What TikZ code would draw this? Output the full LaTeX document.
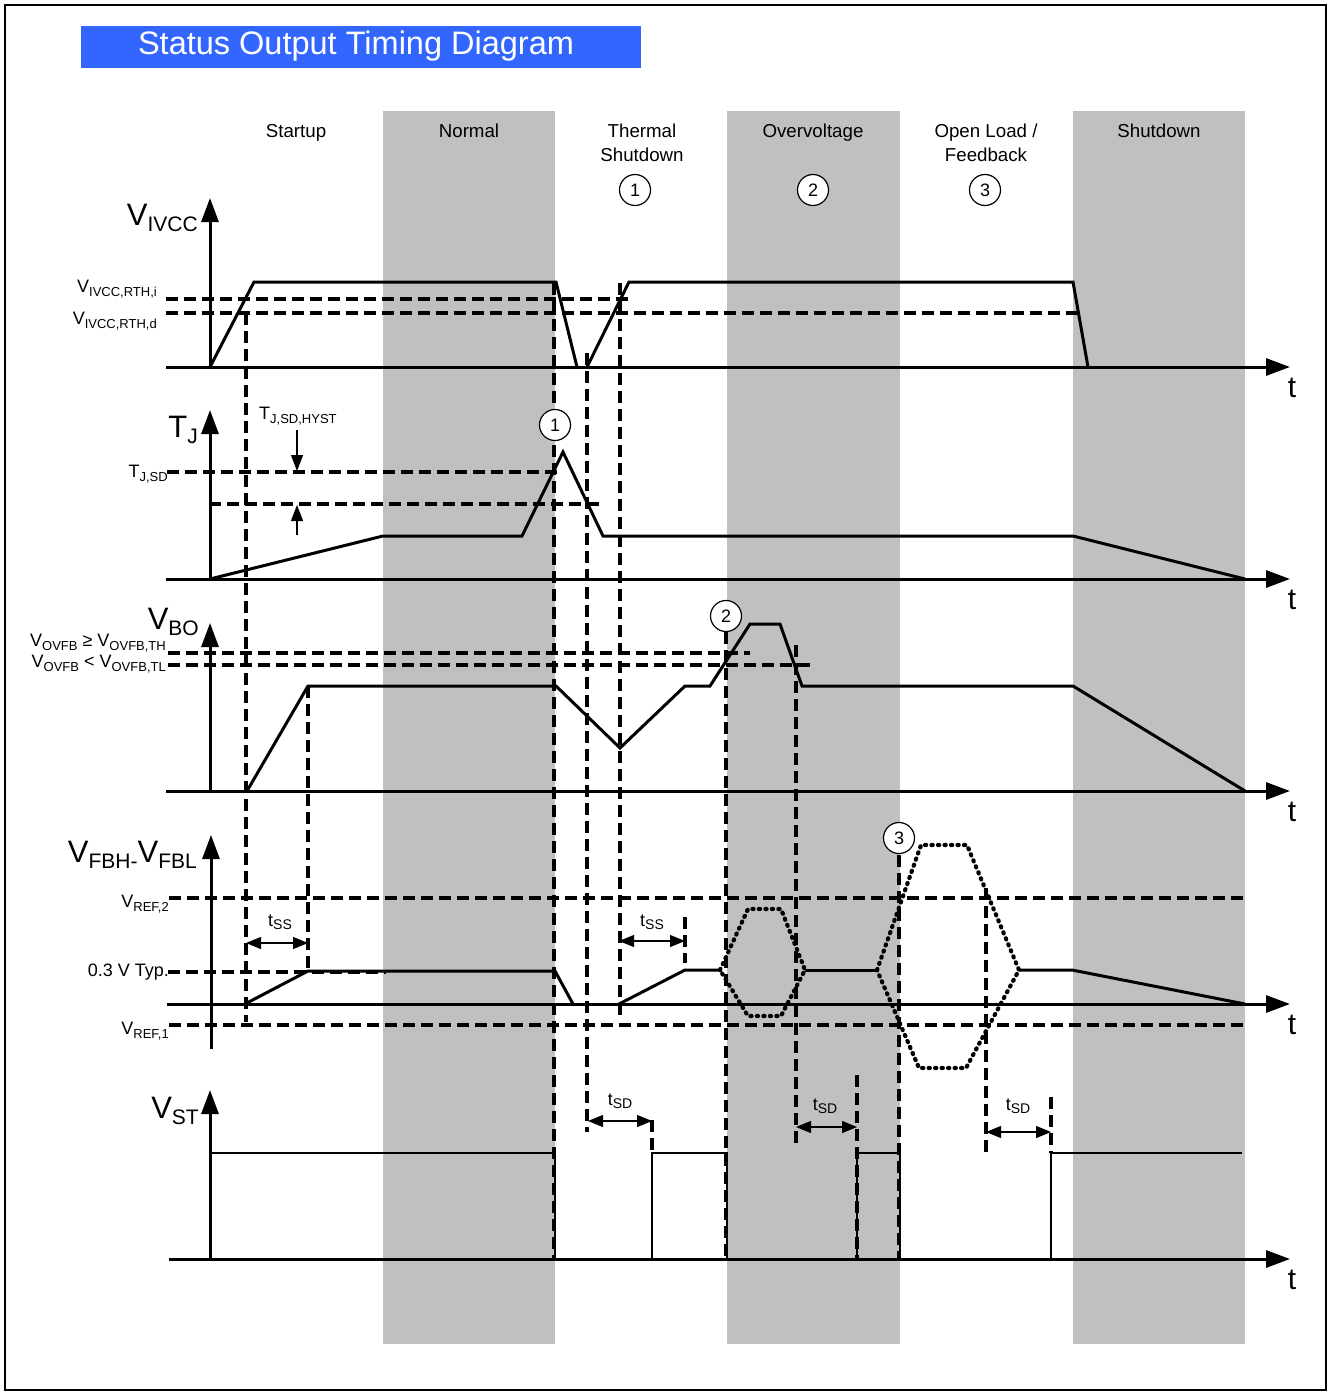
\documentclass[tikz,border=0pt]{standalone}
\usepackage{fontspec}
\setmainfont{Liberation Sans}
\usetikzlibrary{arrows.meta}
\definecolor{bandgray}{RGB}{192,192,192}
\definecolor{titleblue}{RGB}{51,102,255}
\newcommand\BigSig[2]{{\fontsize{31}{33}\selectfont #1}\raisebox{-6pt}{\fontsize{21}{23}\selectfont #2}}
\newcommand\SmSig[2]{{\fontsize{18}{20}\selectfont #1}\raisebox{-4pt}{\fontsize{13}{15}\selectfont #2}}
\newcommand\TSig[2]{{\fontsize{18}{20}\selectfont #1}\raisebox{-3pt}{\fontsize{14}{16}\selectfont #2}}
\begin{document}
\begin{tikzpicture}[x=1pt,y=-1pt,
  ax/.style={line width=3pt,-{Triangle[length=24pt,width=17pt]}},
  wave/.style={line width=3pt,line join=miter},
  stwave/.style={line width=2.6pt},
  thr/.style={line width=3.2pt,dash pattern=on 12pt off 6pt},
  dots/.style={line width=4.2pt,dash pattern=on 1.2pt off 5.3pt,line cap=round},
  dim/.style={line width=1.2pt,{Triangle[length=15pt,width=12pt]}-{Triangle[length=15pt,width=12pt]}},
  hyst/.style={line width=1.2pt,-{Triangle[length=16pt,width=12pt]}},
  col/.style={font=\fontsize{18.7}{23}\selectfont,align=center,inner sep=0pt,anchor=base},
  num/.style={circle,draw,line width=1.2pt,fill=white,minimum size=31pt,inner sep=0pt,font=\fontsize{18}{20}\selectfont},
  tl/.style={font=\fontsize{30}{32}\selectfont,inner sep=0pt},
  lb/.style={inner sep=0pt}
]
\useasboundingbox (0,0) rectangle (1329,1394);
\draw[line width=1.4pt] (5,5) rectangle (1326,1390);
% title
\fill[titleblue] (81,26) rectangle (641,68);
\node[text=white,font=\fontsize{32.5}{34}\selectfont,inner sep=0pt] (title) at (356,46) {Status Output Timing Diagram};
% bands
\fill[bandgray] (383,111) rectangle (555,1344);
\fill[bandgray] (727,111) rectangle (900,1344);
\fill[bandgray] (1073,111) rectangle (1245,1344);
% column labels
\node[col] (cstart) at (296,138) {Startup};
\node[col] (cnorm) at (469,138) {Normal};
\node[col] (cth) at (642,138) {Thermal};
\node[col] (cth2) at (642,161) {Shutdown};
\node[col] (cov) at (813,138) {Overvoltage};
\node[col] (cop) at (986,138) {Open Load /};
\node[col] (cop2) at (986,161) {Feedback};
\node[col] (csd) at (1159,138) {Shutdown};
\node[num] (n1) at (635,190) {1};
\node[num] (n2) at (813,190) {2};
\node[num] (n3) at (985,190) {3};
% thresholds
\draw[thr] (166,299) -- (632,299);
\draw[thr] (166,313) -- (1078,313);
\draw[thr] (167,472) -- (561,472);
\draw[thr] (209,504) -- (601,504);
\draw[thr] (168,653) -- (750,653);
\draw[thr] (168,665) -- (813,665);
\draw[thr] (169,898) -- (1245,898);
\draw[thr] (168,972) -- (386,972);
\draw[thr] (169,1025) -- (1245,1025);
% vertical dashed
\draw[thr] (246,313) -- (246,1022);
\draw[thr] (308,686) -- (308,972);
\draw[thr] (554,283) -- (554,1259);
\draw[thr] (587,353) -- (587,1132);
\draw[thr] (620,283) -- (620,1017);
\draw[thr] (685,917) -- (685,963);
\draw[thr] (726,632) -- (726,1259);
\draw[thr] (796,645) -- (796,1143);
\draw[thr] (857,1075) -- (857,1259);
\draw[thr] (899,855) -- (899,1259);
\draw[thr] (986,888) -- (986,1154);
\draw[thr] (1051,1097) -- (1051,1153);
\draw[thr] (652,1120) -- (652,1153);
% waveforms
\draw[wave] (210,367)--(254,282)--(556,282)--(577,367);
\draw[wave] (587,367)--(629,282)--(1073,282)--(1088,367);
\draw[wave] (210,579)--(383,536)--(522,536)--(563,452)--(603,536)--(1073,536)--(1245,579);
\draw[wave] (247,791)--(308,686)--(556,686)--(620,748)--(685,686)--(710,686)--(750,624)--(780,624)--(802,686)--(1073,686)--(1245,791);
\draw[wave] (245,1004)--(308,971)--(555,971)--(573,1004);
\draw[wave] (619,1004)--(685,970)--(720,970);
\draw[wave] (805,970)--(876,970);
\draw[wave] (1019,970)--(1072,970)--(1245,1004);
\draw[dots] (720,970)--(748,909)--(781,909)--(805,970)--(781,1016)--(748,1016)--cycle;
\draw[dots] (877,970)--(921,845)--(967,845)--(1019,970)--(966,1068)--(919,1068)--cycle;
\draw[stwave] (210,1259)--(210,1153)--(555,1153)--(555,1259);
\draw[stwave] (652,1259)--(652,1153)--(727,1153)--(727,1259);
\draw[stwave] (857,1259)--(857,1153)--(900,1153)--(900,1259);
\draw[stwave] (1051,1259)--(1051,1153)--(1242,1153);
% axes
\draw[ax] (210,367)--(210,198);
\draw[ax] (210,579)--(210,410);
\draw[ax] (210,791)--(210,623);
\draw[ax] (211,1049)--(211,835);
\draw[ax] (210,1259)--(210,1090);
\draw[ax] (166,367)--(1290,367);
\draw[ax] (166,579)--(1290,579);
\draw[ax] (166,791)--(1290,791);
\draw[ax] (167,1004)--(1290,1004);
\draw[ax] (169,1259)--(1290,1259);
\node[tl] (t1) at (1292,388) {t};
\node[tl] (t2) at (1292,600) {t};
\node[tl] (t3) at (1292,812) {t};
\node[tl] (t4) at (1292,1025) {t};
\node[tl] (t5) at (1292,1280) {t};
% circles on waveforms
\node[num] (m1) at (555,425) {1};
\node[num] (m2) at (726,616) {2};
\node[num] (m3) at (899,838) {3};
% dimension arrows
\draw[dim] (246,943)--(308,943);
\draw[dim] (619,941)--(685,941);
\draw[dim] (588,1121)--(652,1121);
\draw[dim] (796,1127)--(857,1127);
\draw[dim] (986,1132)--(1051,1132);
\draw[hyst] (297,430)--(297,471);
\draw[hyst] (297,535)--(297,505);
% signal labels
\node[lb,anchor=base east] (lvivcc) at (198,225) {\BigSig{V}{IVCC}};
\node[lb,anchor=base east] (ltj) at (198,437) {\BigSig{T}{J}};
\node[lb,anchor=base east] (lvbo) at (199,629) {\BigSig{V}{BO}};
\node[lb,anchor=base east] (lfb) at (197,862) {\BigSig{V}{FBH-}\BigSig{V}{FBL}};
\node[lb,anchor=base east] (lvst) at (199,1118) {\BigSig{V}{ST}};
% threshold labels
\node[lb,anchor=base east] (lrthi) at (157,292) {\SmSig{V}{IVCC,RTH,i}};
\node[lb,anchor=base east] (lrthd) at (157,324) {\SmSig{V}{IVCC,RTH,d}};
\node[lb,anchor=base east] (ltjsd) at (168,477) {\SmSig{T}{J,SD}};
\node[lb,anchor=base west] (lhyst) at (259,419) {\SmSig{T}{J,SD,HYST}};
\node[lb,anchor=base east] (lovth) at (166,646) {\SmSig{V}{OVFB}{\fontsize{18}{20}\selectfont\ ≥\ }\SmSig{V}{OVFB,TH}};
\node[lb,anchor=base east] (lovtl) at (166,667) {\SmSig{V}{OVFB}{\fontsize{18}{20}\selectfont\ <\ }\SmSig{V}{OVFB,TL}};
\node[lb,anchor=base east] (lref2) at (169,907) {\SmSig{V}{REF,2}};
\node[lb,anchor=base east,font=\fontsize{18}{20}\selectfont] (ltyp) at (169,976) {0.3 V Typ.};
\node[lb,anchor=base east] (lref1) at (169,1034) {\SmSig{V}{REF,1}};
\node[lb,anchor=base] (ltss1) at (280,926) {\TSig{t}{SS}};
\node[lb,anchor=base] (ltss2) at (652,926) {\TSig{t}{SS}};
\node[lb,anchor=base] (ltsd1) at (620,1105) {\TSig{t}{SD}};
\node[lb,anchor=base] (ltsd2) at (825,1110) {\TSig{t}{SD}};
\node[lb,anchor=base] (ltsd3) at (1018,1110) {\TSig{t}{SD}};
\end{tikzpicture}
\end{document}
